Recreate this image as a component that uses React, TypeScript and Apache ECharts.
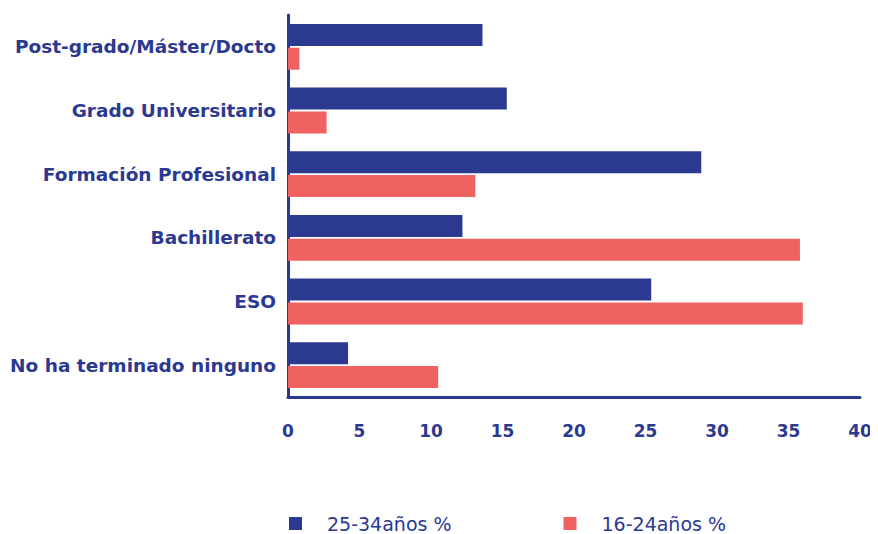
import React, { useEffect, useRef } from "react";
import * as echarts from "echarts";

const categories = [
  "Post-grado/Máster/Docto",
  "Grado Universitario",
  "Formación Profesional",
  "Bachillerato",
  "ESO",
  "No ha terminado ninguno",
];
const serie2534 = [13.6, 15.3, 28.9, 12.2, 25.4, 4.2];
const serie1624 = [0.8, 2.7, 13.1, 35.8, 36.0, 10.5];
const seriesNames = ["25-34años %", "16-24años %"];

const BLUE = "#2b3990";
const RED = "#f06262";
const FONT = "DejaVu Sans";

export default function App() {
  const ref = useRef<HTMLDivElement>(null);
  useEffect(() => {
    if (!ref.current) return;
    const chart = echarts.init(ref.current, null, { renderer: "svg" });
    chart.setOption({
      animation: false,
      textStyle: { fontFamily: FONT },
      grid: { left: 288, right: 18, top: 15, bottom: 137, containLabel: false },
      legend: {
        bottom: -4,
        left: 284,
        itemWidth: 13,
        itemHeight: 13,
        itemGap: 112,
        icon: "rect",
        textStyle: { color: BLUE, fontSize: 19, fontFamily: FONT, padding: [0, 0, 0, 20] },
        data: seriesNames,
      },
      xAxis: {
        type: "value",
        min: 0,
        max: 40,
        interval: 5,
        axisLine: { show: true, lineStyle: { color: BLUE, width: 3 } },
        axisTick: { show: false },
        splitLine: { show: false },
        axisLabel: { color: BLUE, fontSize: 17, fontWeight: "bold", margin: 25, fontFamily: FONT },
      },
      yAxis: {
        type: "category",
        data: categories,
        inverse: true,
        axisLine: { show: true, lineStyle: { color: BLUE, width: 3 } },
        axisTick: { show: false },
        axisLabel: { color: BLUE, fontSize: 18.5, fontWeight: "bold", margin: 12, fontFamily: FONT },
      },
      series: [
        {
          name: seriesNames[0],
          type: "bar",
          data: serie2534,
          barWidth: 22,
          barGap: "8%",
          itemStyle: { color: BLUE },
        },
        {
          name: seriesNames[1],
          type: "bar",
          data: serie1624,
          barWidth: 22,
          itemStyle: { color: RED },
        },
      ],
    });
    return () => chart.dispose();
  }, []);
  return <div ref={ref} style={{ width: 878, height: 534, marginLeft: -8, marginTop: -8 }} />;
}
